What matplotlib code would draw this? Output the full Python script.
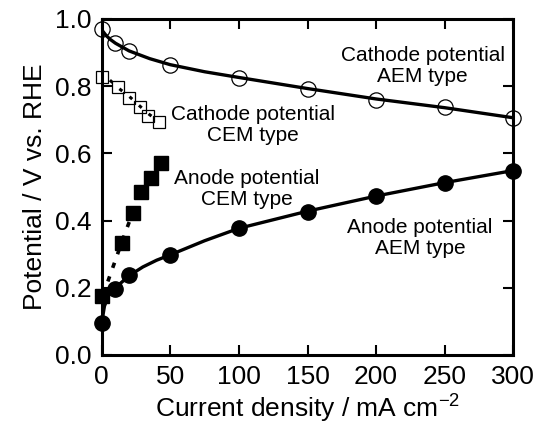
import matplotlib
matplotlib.use('Agg')
import matplotlib.pyplot as plt

plt.rcParams['font.family'] = ['Liberation Sans', 'DejaVu Sans']
plt.rcParams['mathtext.fontset'] = 'custom'
plt.rcParams['mathtext.rm'] = 'Liberation Sans'
plt.rcParams['mathtext.default'] = 'regular'

# Cathode potential, AEM type (open circles + solid fit)
cat_aem_x = [0, 10, 20, 50, 100, 150, 200, 250, 300]
cat_aem_y = [0.969, 0.928, 0.906, 0.863, 0.824, 0.791, 0.759, 0.737, 0.704]
cat_aem_fit_x = [0, 3, 6, 10, 20, 35, 50, 75, 100, 150, 200, 250, 300]
cat_aem_fit_y = [0.968, 0.952, 0.940, 0.928, 0.905, 0.882, 0.864, 0.843, 0.826, 0.793, 0.762, 0.736, 0.706]

# Anode potential, AEM type (filled circles + solid fit)
an_aem_x = [0, 10, 20, 50, 100, 150, 200, 250, 300]
an_aem_y = [0.095, 0.196, 0.237, 0.298, 0.377, 0.427, 0.473, 0.513, 0.549]
an_aem_fit_x = [0, 2, 5, 10, 20, 30, 40, 50, 75, 100, 150, 200, 250, 300]
an_aem_fit_y = [0.095, 0.145, 0.178, 0.200, 0.236, 0.262, 0.282, 0.298, 0.340, 0.377, 0.428, 0.473, 0.513, 0.549]

# Cathode potential, CEM type (open squares + dotted fit)
cat_cem_x = [0, 12, 20, 28, 34, 42]
cat_cem_y = [0.828, 0.797, 0.766, 0.737, 0.711, 0.694]
cat_cem_fit_x = [6, 12, 20, 28, 35, 40]
cat_cem_fit_y = [0.818, 0.795, 0.770, 0.740, 0.715, 0.700]

# Anode potential, CEM type (filled squares + dotted fit)
an_cem_x = [0, 15, 23, 29, 36, 43]
an_cem_y = [0.176, 0.332, 0.424, 0.486, 0.526, 0.570]
an_cem_fit_x = [0, 4, 7, 10, 15, 20, 23]
an_cem_fit_y = [0.180, 0.213, 0.248, 0.282, 0.340, 0.395, 0.424]

fig = plt.figure(figsize=(5.4, 4.26), dpi=100)
ax = fig.add_axes([0.1883, 0.1667, 0.7623, 0.7887])

ax.plot(cat_aem_fit_x, cat_aem_fit_y, '-', color='black', lw=2.4, zorder=2)
ax.plot(an_aem_fit_x, an_aem_fit_y, '-', color='black', lw=2.4, zorder=2)
ax.plot(cat_cem_fit_x, cat_cem_fit_y, color='black', lw=2.2, linestyle=(0, (1.2, 3)), zorder=2)
ax.plot(an_cem_fit_x, an_cem_fit_y, color='black', lw=2.6, linestyle=(0, (1.5, 2.5)), zorder=2)

ax.plot(cat_aem_x, cat_aem_y, 'o', ms=11, mfc='none', mec='black', mew=0.9, clip_on=False, zorder=3)
ax.plot(an_aem_x, an_aem_y, 'o', ms=11, mfc='black', mec='black', clip_on=False, zorder=3)
ax.plot(cat_cem_x, cat_cem_y, 's', ms=8, mfc='none', mec='black', mew=0.9, clip_on=False, zorder=3)
ax.plot(an_cem_x, an_cem_y, 's', ms=10.5, mfc='black', mec='black', clip_on=False, zorder=3)

ax.set_xlim(0, 300)
ax.set_ylim(0, 1.0)
ax.set_xticks([0, 50, 100, 150, 200, 250, 300])
ax.set_yticks([0.0, 0.2, 0.4, 0.6, 0.8, 1.0])
ax.set_yticklabels(['0.0', '0.2', '0.4', '0.6', '0.8', '1.0'])
ax.tick_params(direction='in', length=7, width=1.5, labelsize=19,
               top=True, right=True, pad=7)
for s in ax.spines.values():
    s.set_linewidth(2.2)

ax.set_xlabel('Current density / mA cm$^{-2}$', fontsize=19, labelpad=3)
ax.set_ylabel('Potential / V vs. RHE', fontsize=19, labelpad=6)

ax.text(234, 0.86, 'Cathode potential\nAEM type', fontsize=15, ha='center', va='center', linespacing=1.15)
ax.text(110, 0.685, 'Cathode potential\nCEM type', fontsize=15, ha='center', va='center', linespacing=1.15)
ax.text(106, 0.493, 'Anode potential\nCEM type', fontsize=15, ha='center', va='center', linespacing=1.15)
ax.text(232, 0.348, 'Anode potential\nAEM type', fontsize=15, ha='center', va='center', linespacing=1.15)

fig.savefig('out.png', dpi=100)
